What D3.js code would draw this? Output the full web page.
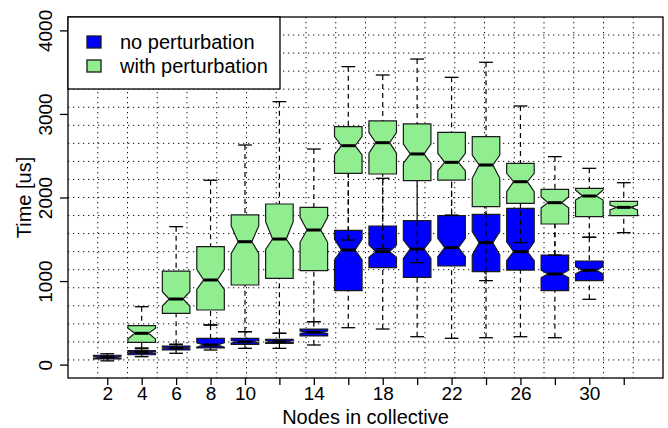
<!DOCTYPE html>
<html lang="en">
<head>
<meta charset="UTF-8">
<title>Nodes in collective</title>
<script src="https://cdn.jsdelivr.net/npm/d3@7"></script>
<style>
  body { margin: 0; background: #fff; }
  text { font-family: "Liberation Sans", Arial, sans-serif; fill: #000; }
</style>
</head>
<body>
<div id="chart"></div>
<script>
// node counts, one box group per count
const categories = [2, 4, 6, 8, 10, 12, 14, 16, 18, 20, 22, 24, 26, 28, 30, 32];
const shownLabels = [2, 4, 6, 8, 10, 14, 18, 22, 26, 30];
const yTicks = [0, 1000, 2000, 3000, 4000];
const seriesNames = ["no perturbation", "with perturbation"];

// no perturbation (blue)
const blueLo  = [45, 95, 136, 175, 195, 195, 235, 442, 426, 334, 315, 322, 334, 322, 782, null];
const blueQ1  = [68, 118, 175, 200, 243, 255, 343, 885, 1160, 1045, 1180, 1112, 1132, 885, 1005, null];
const blueMed = [90, 145, 199, 235, 274, 274, 387, 1372, 1352, 1384, 1400, 1459, 1352, 1085, 1129, null];
const blueQ3  = [112, 167, 223, 315, 315, 303, 426, 1607, 1659, 1723, 1782, 1799, 1871, 1312, 1240, null];
const blueHi  = [130, 190, 240, 474, 394, 375, 514, 2400, 2230, 2300, 2300, 1950, 2000, 1800, 1524, null];
const blueNLo = [80, 135, 190, 210, 260, 262, 372, 1252, 1284, 1272, 1292, 1312, 1244, 1040, 1085, null];
const blueNHi = [100, 155, 208, 262, 288, 286, 402, 1500, 1432, 1491, 1512, 1591, 1471, 1130, 1172, null];

// with perturbation (green)
const greenLo  = [null, 200, 245, 474, 394, 375, 514, 1491, 1388, 1220, 1790, 1005, 1459, 1310, 1524, 1579];
const greenQ1  = [null, 267, 614, 654, 953, 1033, 1124, 2289, 2281, 2201, 2209, 1890, 1930, 1683, 1770, 1782];
const greenMed = [null, 375, 785, 1013, 1471, 1503, 1611, 2620, 2656, 2521, 2421, 2389, 2189, 1938, 2018, 1882];
const greenQ3  = [null, 466, 1120, 1411, 1791, 1922, 1883, 2848, 2916, 2880, 2780, 2728, 2409, 2098, 2110, 1953];
const greenHi  = [null, 693, 1651, 2206, 2628, 3147, 2580, 3566, 3466, 3657, 3438, 3618, 3095, 2489, 2349, 2177];
const greenNLo = [null, 307, 702, 901, 1332, 1380, 1464, 2509, 2529, 2409, 2321, 2230, 2070, 1878, 1970, 1850];
const greenNHi = [null, 435, 873, 1141, 1659, 1710, 1763, 2728, 2776, 2640, 2529, 2509, 2290, 2010, 2090, 1910];

const w = 668, h = 428;
const padL = 68, padR = 663, padT = 17, padB = 378;
const n = categories.length;

const x = d3.scaleLinear()
  .domain([0.5 - 0.04 * n, n + 0.5 + 0.04 * n])
  .range([padL, padR]);
const y = d3.scaleLinear()
  .domain([-160, 4160])
  .range([padB, padT]);

const svg = d3.select("#chart").append("svg")
  .attr("width", w)
  .attr("height", h);

// dotted grid, 20 x 20 cells
const gx = x.domain(), gy = y.domain();
const grid = svg.append("g")
  .attr("stroke", "#111")
  .attr("stroke-width", 1)
  .attr("stroke-dasharray", "1.3,3.7");
for (let k = 1; k < 20; k++) {
  const xv = x(gx[0] + k * (gx[1] - gx[0]) / 20);
  grid.append("line").attr("x1", xv).attr("x2", xv).attr("y1", padT).attr("y2", padB);
  const yv = y(gy[0] + k * (gy[1] - gy[0]) / 20);
  grid.append("line").attr("x1", padL).attr("x2", padR).attr("y1", yv).attr("y2", yv);
}

const wid = 0.4 * (x(1) - x(0));

function drawSeries(lo, q1, med, q3, hi, nlo, nhi, fill) {
  const g = svg.append("g");
  categories.forEach((c, i) => {
    if (med[i] == null) return;
    const cx = x(i + 1);
    const pts = [
      [cx - wid, q1[i]], [cx + wid, q1[i]], [cx + wid, nlo[i]], [cx + wid / 2, med[i]],
      [cx + wid, nhi[i]], [cx + wid, q3[i]], [cx - wid, q3[i]], [cx - wid, nhi[i]],
      [cx - wid / 2, med[i]], [cx - wid, nlo[i]]
    ];
    g.append("polygon")
      .attr("points", pts.map(p => p[0] + "," + y(p[1])).join(" "))
      .attr("fill", fill)
      .attr("stroke", "#1a1a1a")
      .attr("stroke-width", 1.2);
    g.append("line")
      .attr("x1", cx - wid / 2).attr("x2", cx + wid / 2)
      .attr("y1", y(med[i])).attr("y2", y(med[i]))
      .attr("stroke", "#000").attr("stroke-width", 3);
    // whiskers
    [[lo[i], q1[i]], [hi[i], q3[i]]].forEach(([a, b]) => {
      g.append("line")
        .attr("x1", cx).attr("x2", cx)
        .attr("y1", y(a)).attr("y2", y(b))
        .attr("stroke", "#000").attr("stroke-width", 1.2)
        .attr("stroke-dasharray", "5,4");
      g.append("line")
        .attr("x1", cx - wid / 2).attr("x2", cx + wid / 2)
        .attr("y1", y(a)).attr("y2", y(a))
        .attr("stroke", "#000").attr("stroke-width", 1.3);
    });
  });
}

drawSeries(blueLo, blueQ1, blueMed, blueQ3, blueHi, blueNLo, blueNHi, "#0000ff");
drawSeries(greenLo, greenQ1, greenMed, greenQ3, greenHi, greenNLo, greenNHi, "#90ee90");

// frame
svg.append("rect")
  .attr("x", padL).attr("y", padT)
  .attr("width", padR - padL).attr("height", padB - padT)
  .attr("fill", "none").attr("stroke", "#000").attr("stroke-width", 1.3);

// x axis
const xAxis = d3.axisBottom(x)
  .tickValues(categories.map((c, i) => i + 1))
  .tickSize(7)
  .tickFormat(v => shownLabels.includes(categories[v - 1]) ? categories[v - 1] : "");
svg.append("g")
  .attr("transform", "translate(0," + padB + ")")
  .call(xAxis)
  .call(g => g.select(".domain").remove())
  .call(g => g.selectAll("line").attr("stroke", "#000").attr("stroke-width", 1.3))
  .call(g => g.selectAll("text")
    .attr("font-size", 19).attr("font-family", null)
    .attr("y", 22).attr("dy", null));

// y axis
const yAxis = d3.axisLeft(y)
  .tickValues(yTicks)
  .tickSize(8)
  .tickFormat(d3.format("d"));
svg.append("g")
  .attr("transform", "translate(" + padL + ",0)")
  .call(yAxis)
  .call(g => g.select(".domain").remove())
  .call(g => g.selectAll("line").attr("stroke", "#000").attr("stroke-width", 1.3))
  .call(g => g.selectAll("text")
    .attr("font-size", 19).attr("font-family", null)
    .attr("x", null).attr("dy", null)
    .attr("text-anchor", "middle")
    .attr("transform", "translate(-16,0) rotate(-90)"));

// axis titles
svg.append("text")
  .attr("x", (padL + padR) / 2).attr("y", 424)
  .attr("text-anchor", "middle").attr("font-size", 20)
  .text("Nodes in collective");
svg.append("text")
  .attr("transform", "translate(31," + (padT + padB) / 2 + ") rotate(-90)")
  .attr("text-anchor", "middle").attr("font-size", 20)
  .text("Time [us]");

// legend
const legend = svg.append("g");
legend.append("rect")
  .attr("x", padL).attr("y", padT)
  .attr("width", 212).attr("height", 72)
  .attr("fill", "#fff").attr("stroke", "#000").attr("stroke-width", 1.3);
const legendFills = ["#0000ff", "#90ee90"];
seriesNames.forEach((s, i) => {
  legend.append("rect")
    .attr("x", 87).attr("y", 36 + i * 24)
    .attr("width", 14).attr("height", 12)
    .attr("fill", legendFills[i]).attr("stroke", "#1a1a1a").attr("stroke-width", 1.3);
  legend.append("text")
    .attr("x", 120).attr("y", 49 + i * 24)
    .attr("font-size", 20)
    .text(s);
});
</script>
</body>
</html>
